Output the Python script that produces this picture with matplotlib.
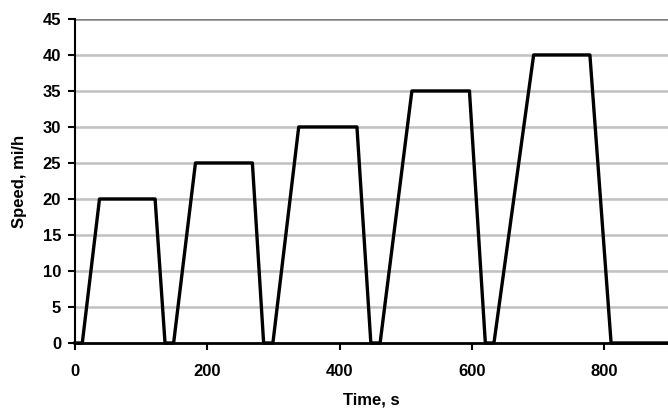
import matplotlib
matplotlib.use("Agg")
import matplotlib.pyplot as plt

time_s = [0, 11, 37, 121, 136, 149, 182, 268, 285, 299, 338, 426, 447, 461,
          509, 596, 620, 633, 693, 778, 810, 900]
speed_mph = [0, 0, 20, 20, 0, 0, 25, 25, 0, 0, 30, 30, 0, 0,
             35, 35, 0, 0, 40, 40, 0, 0]
x_ticks = [0, 200, 400, 600, 800]
y_ticks = [0, 5, 10, 15, 20, 25, 30, 35, 40, 45]

plt.rcParams['font.family'] = ['Liberation Sans', 'DejaVu Sans']

fig = plt.figure(figsize=(6.68, 4.16), dpi=100)
ax = fig.add_axes([0.1123, 0.1755, 0.8877, 0.779])

for y in y_ticks[1:-1]:
    ax.axhline(y, color='#c0c0c0', lw=1.8, zorder=1)
ax.axhline(45, color='#808080', lw=1.8, zorder=1)

ax.plot(time_s, speed_mph, color='black', lw=2.4, zorder=3, clip_on=False)

ax.set_xlim(0, 896)
ax.set_ylim(0, 45)
ax.set_xticks(x_ticks)
ax.set_yticks(y_ticks)
ax.tick_params(axis='both', direction='out', length=5, width=1.5, color='black',
               labelsize=12)
for lab in ax.get_xticklabels() + ax.get_yticklabels():
    lab.set_fontweight('bold')
ax.tick_params(axis='x', pad=10)
ax.tick_params(axis='y', pad=5)

for s in ['top', 'right']:
    ax.spines[s].set_visible(False)
ax.spines['left'].set_linewidth(1.5)
ax.spines['bottom'].set_linewidth(2)

ax.set_xlabel('Time, s', fontsize=12, fontweight='bold', labelpad=10)
ax.set_ylabel('Speed, mi/h', fontsize=12, fontweight='bold', labelpad=11)

fig.savefig('out.png', dpi=100)
